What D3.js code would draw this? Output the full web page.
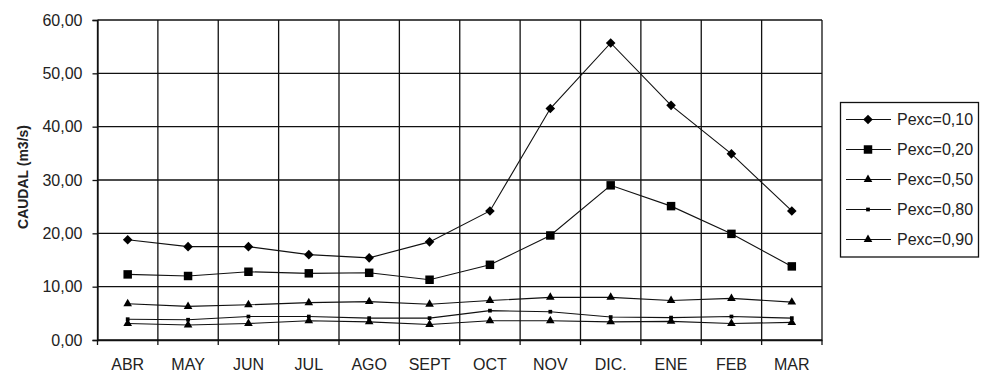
<!DOCTYPE html>
<html>
<head>
<meta charset="utf-8">
<script src="https://cdn.jsdelivr.net/npm/d3@7"></script>
<style>
  html, body { margin: 0; padding: 0; background: #fff; }
  svg { display: block; font-family: "Liberation Sans", Arial, sans-serif; }
</style>
</head>
<body>
<svg id="chart" width="982" height="373"></svg>
<script>
// Monthly flow (m3/s) for each exceedance probability
const months = ["ABR", "MAY", "JUN", "JUL", "AGO", "SEPT", "OCT", "NOV", "DIC.", "ENE", "FEB", "MAR"];
const p010 = [18.8, 17.5, 17.5, 16.0, 15.4, 18.4, 24.2, 43.4, 55.7, 44.0, 34.9, 24.2];
const p020 = [12.3, 12.0, 12.8, 12.5, 12.6, 11.3, 14.1, 19.6, 29.0, 25.1, 19.9, 13.8];
const p050 = [6.8, 6.3, 6.6, 7.0, 7.2, 6.7, 7.4, 8.0, 8.0, 7.4, 7.8, 7.1];
const p080 = [3.9, 3.8, 4.4, 4.4, 4.1, 4.1, 5.5, 5.3, 4.3, 4.2, 4.4, 4.1];
const p090 = [3.1, 2.8, 3.1, 3.6, 3.4, 2.9, 3.6, 3.6, 3.4, 3.5, 3.1, 3.3];
const seriesNames = ["Pexc=0,10", "Pexc=0,20", "Pexc=0,50", "Pexc=0,80", "Pexc=0,90"];
const yTicks = [0, 10, 20, 30, 40, 50, 60];

// Marker: symbol type, area, rotation
const seriesList = [
  { name: seriesNames[0], values: p010, shape: "square", size: 46, rotate: 45 },
  { name: seriesNames[1], values: p020, shape: "square", size: 72, rotate: 0 },
  { name: seriesNames[2], values: p050, shape: "triangle", size: 32, rotate: 0 },
  { name: seriesNames[3], values: p080, shape: "square", size: 14, rotate: 0 },
  { name: seriesNames[4], values: p090, shape: "triangle", size: 32, rotate: 0 }
];

const symbolType = {
  square: d3.symbolSquare,
  triangle: d3.symbolTriangle
};

const svg = d3.select("#chart");
const plot = { left: 97.5, right: 822, top: 20, bottom: 340 };
const ink = "#111";
const fontSize = 16;

const x = d3.scaleBand().domain(months).range([plot.left, plot.right]).padding(0);
const y = d3.scaleLinear().domain([0, 60]).range([plot.bottom, plot.top]);

const fmt = v => d3.format(".2f")(v).replace(".", ",");

// Horizontal gridlines
svg.append("g")
  .selectAll("line")
  .data(yTicks)
  .join("line")
  .attr("x1", plot.left).attr("x2", plot.right)
  .attr("y1", d => y(d)).attr("y2", d => y(d))
  .attr("stroke", ink).attr("stroke-width", 1.3);

// Vertical gridlines at category boundaries
const bounds = months.map(m => x(m)).concat([plot.right]);
svg.append("g")
  .selectAll("line")
  .data(bounds)
  .join("line")
  .attr("x1", d => d).attr("x2", d => d)
  .attr("y1", plot.top).attr("y2", plot.bottom + 5)
  .attr("stroke", ink).attr("stroke-width", 1.3);

// Y axis
const yAxis = svg.append("g")
  .attr("transform", `translate(${plot.left},0)`)
  .call(d3.axisLeft(y).tickValues(yTicks).tickFormat(fmt).tickSize(5).tickPadding(10));
yAxis.select(".domain").attr("stroke", ink).attr("stroke-width", 1.3);
yAxis.selectAll(".tick line").attr("stroke", ink).attr("stroke-width", 1.3);
yAxis.selectAll("text")
  .attr("fill", "#222").attr("font-size", fontSize)
  .attr("font-family", "'Liberation Sans', Arial, sans-serif");

// X axis labels
const xAxis = svg.append("g")
  .attr("transform", `translate(0,${plot.bottom})`)
  .call(d3.axisBottom(x).tickSize(0).tickPadding(19));
xAxis.select(".domain").attr("stroke", ink).attr("stroke-width", 1.3);
xAxis.selectAll("text")
  .attr("fill", "#222").attr("font-size", fontSize)
  .attr("font-family", "'Liberation Sans', Arial, sans-serif");

// Y axis title
svg.append("text")
  .attr("transform", `translate(28,${(plot.top + plot.bottom) / 2 - 3}) rotate(-90)`)
  .attr("text-anchor", "middle")
  .attr("font-size", 14).attr("font-weight", "bold").attr("fill", "#222")
  .text("CAUDAL (m3/s)");

// Series lines and markers
const cx = i => x(months[i]) + x.bandwidth() / 2;
const line = d3.line()
  .x((d, i) => cx(i))
  .y(d => y(d));

seriesList.forEach(s => {
  const g = svg.append("g");
  g.append("path")
    .datum(s.values)
    .attr("d", line)
    .attr("fill", "none").attr("stroke", ink).attr("stroke-width", 1.1);
  g.selectAll("path.mark")
    .data(s.values)
    .join("path")
    .attr("class", "mark")
    .attr("transform", (d, i) => `translate(${cx(i)},${y(d)}) rotate(${s.rotate})`)
    .attr("d", d3.symbol().type(symbolType[s.shape]).size(s.size))
    .attr("fill", "#000");
});

// Legend
const legend = svg.append("g");
const legendBox = { x: 840.5, y: 102.5, w: 138, h: 154.5 };
legend.append("rect")
  .attr("x", legendBox.x).attr("y", legendBox.y)
  .attr("width", legendBox.w).attr("height", legendBox.h)
  .attr("fill", "#fff").attr("stroke", ink).attr("stroke-width", 1.3);

const rowY = d3.scalePoint().domain(seriesNames).range([119.5, 239.5]);
const items = legend.selectAll("g.item")
  .data(seriesList)
  .join("g")
  .attr("class", "item")
  .attr("transform", d => `translate(0,${rowY(d.name)})`);
items.append("line")
  .attr("x1", 846).attr("x2", 891)
  .attr("stroke", ink).attr("stroke-width", 1.1);
items.append("path")
  .attr("transform", d => `translate(868,0) rotate(${d.rotate})`)
  .attr("d", d => d3.symbol().type(symbolType[d.shape]).size(d.size)())
  .attr("fill", "#000");
items.append("text")
  .attr("x", 897).attr("dy", "0.35em")
  .attr("font-size", fontSize).attr("fill", "#222")
  .text(d => d.name);
</script>
</body>
</html>
